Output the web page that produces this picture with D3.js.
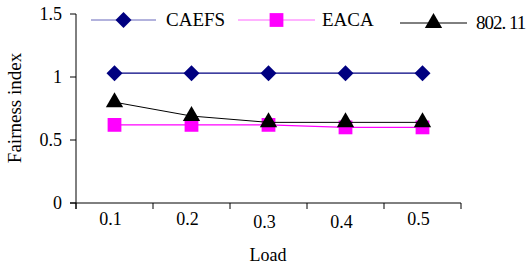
<!DOCTYPE html>
<html><head><meta charset="utf-8">
<script src="https://cdn.jsdelivr.net/npm/d3@7"></script>
<style>body{margin:0;background:#fff}svg{display:block}</style>
</head><body><svg id="c" width="526" height="267"></svg>
<script>
const loads = ["0.1","0.2","0.3","0.4","0.5"];
const caefs = [1.03,1.03,1.03,1.03,1.03];
const eaca = [0.62,0.62,0.62,0.60,0.60];
const ieee = [0.80,0.69,0.64,0.64,0.64];
const yTicks = [0,0.5,1,1.5];
const seriesNames = ["CAEFS","EACA","802. 11"];

const FONT = "'Liberation Serif', 'Times New Roman', 'DejaVu Serif', serif";
const svg = d3.select("#c");
const x = d3.scaleBand().domain(loads).range([76,461]);
const y = d3.scaleLinear().domain([0,1.5]).range([203,14]);

function txt(xp,yp,s,size,anchor){
  return svg.append("text").attr("x",xp).attr("y",yp).attr("font-family",FONT).attr("font-size",size)
    .attr("text-anchor",anchor||"start").attr("fill","#000").text(s);
}

// axes
svg.append("line").attr("x1",76).attr("x2",76).attr("y1",14).attr("y2",209).attr("stroke","#000");
svg.append("line").attr("x1",70).attr("x2",461).attr("y1",203).attr("y2",203).attr("stroke","#000");
yTicks.forEach(t=>{
  svg.append("line").attr("x1",70).attr("x2",76).attr("y1",y(t)).attr("y2",y(t)).attr("stroke","#000");
  txt(62,y(t)+6,String(t),18,"end");
});
const bounds = loads.map(l=>x(l)).concat([x(loads[loads.length-1])+x.bandwidth()]);
bounds.forEach(b=>{
  svg.append("line").attr("x1",b).attr("x2",b).attr("y1",203).attr("y2",209).attr("stroke","#000");
});
loads.forEach((l,i)=>{
  txt(x(l)+x.bandwidth()/2-4,(i===2||i===3)?228:225,l,18,"middle");
});
txt(268,261,"Load",18,"middle");
svg.append("text").attr("transform","translate(21,108) rotate(-90)").attr("text-anchor","middle")
  .attr("font-family",FONT).attr("font-size",19).attr("fill","#000").text("Fairness index");

const cx = l=>x(l)+x.bandwidth()/2;
const line = d3.line().x((d,i)=>cx(loads[i])).y(d=>y(d));
const diamond = d3.symbol().type(d3.symbolSquare).size(128);
const square = d3.symbol().type(d3.symbolSquare).size(190);
const tri = d3.symbol().type(d3.symbolTriangle).size(130);

function series(vals,lineColor,markColor,sym,lw,rot){
  svg.append("path").attr("d",line(vals)).attr("fill","none").attr("stroke",lineColor).attr("stroke-width",lw);
  vals.forEach((v,i)=>{
    svg.append("path").attr("d",sym()).attr("transform",`translate(${cx(loads[i])},${y(v)}) rotate(${rot})`).attr("fill",markColor);
  });
}
series(caefs,"#000080","#000080",diamond,1.2,45);
series(eaca,"#ff00ff","#ff00ff",square,1.2,0);
series(ieee,"#000","#000",tri,1,0);

// legend
const leg = [
  {name:seriesNames[0],x1:91,x2:156,cy:20,color:"#6666bb",mark:"#000080",sym:diamond,rot:45,tx:166,ls:0},
  {name:seriesNames[1],x1:238,x2:315,cy:20,color:"#ff66ff",mark:"#ff00ff",sym:square,rot:0,tx:322,ls:0},
  {name:seriesNames[2],x1:400,x2:467,cy:23,color:"#000",mark:"#000",sym:tri,rot:0,tx:476,ls:-1}
];
leg.forEach(d=>{
  svg.append("line").attr("x1",d.x1).attr("x2",d.x2).attr("y1",d.cy).attr("y2",d.cy).attr("stroke",d.color).attr("stroke-width",1);
  svg.append("path").attr("d",d.sym()).attr("transform",`translate(${(d.x1+d.x2)/2},${d.cy}) rotate(${d.rot})`).attr("fill",d.mark);
  txt(d.tx,d.cy+6,d.name,19).attr("letter-spacing",d.ls);
});
</script></body></html>
